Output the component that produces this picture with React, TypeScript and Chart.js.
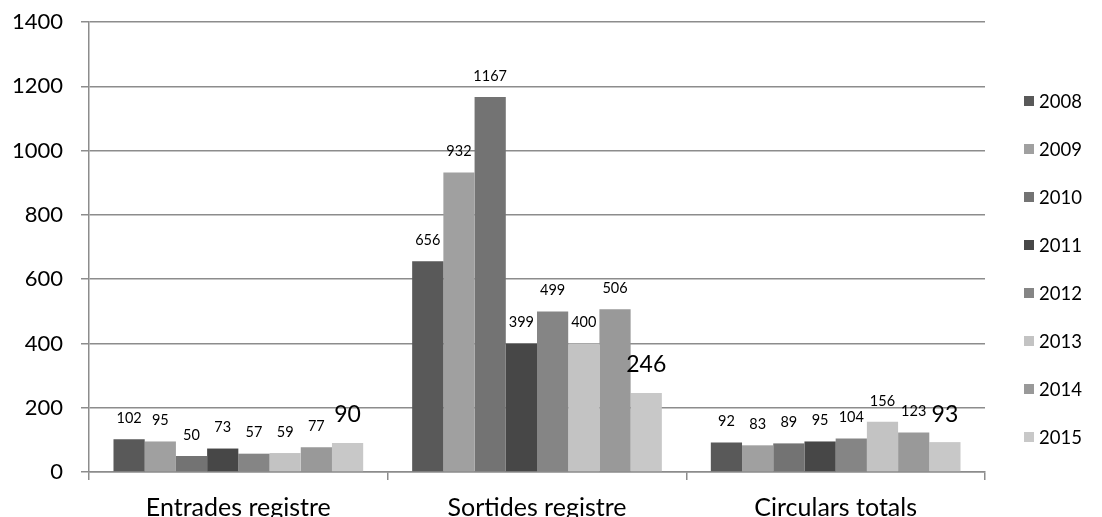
import React, { useEffect, useRef } from "react";
import { Chart, registerables } from "chart.js";

Chart.register(...registerables);

const categories = ["Entrades registre", "Sortides registre", "Circulars totals"];
const years = ["2008", "2009", "2010", "2011", "2012", "2013", "2014", "2015"];
const v2008 = [102, 656, 92];
const v2009 = [95, 932, 83];
const v2010 = [50, 1167, 89];
const v2011 = [73, 399, 95];
const v2012 = [57, 499, 104];
const v2013 = [59, 400, 156];
const v2014 = [77, 506, 123];
const v2015 = [90, 246, 93];
const seriesValues = [v2008, v2009, v2010, v2011, v2012, v2013, v2014, v2015];
const colors = ["#595959", "#a0a0a0", "#737373", "#474747", "#858585", "#c3c3c3", "#999999", "#c8c8c8"];
const yTicks = [0, 200, 400, 600, 800, 1000, 1200, 1400];

const FONT = "Lato, 'Open Sans', sans-serif";

const labelPlugin = {
  id: "barLabels",
  afterDatasetsDraw(chart: any) {
    const ctx = chart.ctx;
    ctx.save();
    ctx.fillStyle = "#000";
    ctx.textAlign = "center";
    ctx.textBaseline = "middle";
    chart.data.datasets.forEach((ds: any, di: number) => {
      const meta = chart.getDatasetMeta(di);
      const big = di === chart.data.datasets.length - 1;
      ctx.font = (big ? "23px " : "14.5px ") + FONT;
      meta.data.forEach((bar: any, i: number) => {
        const off = big ? 28 : 21;
        ctx.fillText(String(ds.data[i]), bar.x, bar.y - off);
      });
    });
    ctx.restore();
  },
};

const legendPlugin = {
  id: "customLegend",
  afterDraw(chart: any) {
    const ctx = chart.ctx;
    ctx.save();
    const x0 = 1024;
    const y0 = 101;
    const step = 48;
    ctx.font = "18.5px " + FONT;
    ctx.textBaseline = "middle";
    ctx.textAlign = "left";
    chart.data.datasets.forEach((ds: any, i: number) => {
      const y = y0 + i * step;
      ctx.fillStyle = ds.backgroundColor;
      ctx.fillRect(x0, y - 5, 10, 10);
      ctx.fillStyle = "#000";
      ctx.fillText(ds.label, x0 + 15, y + 1);
    });
    ctx.restore();
  },
};

export default function App() {
  const ref = useRef<HTMLCanvasElement | null>(null);
  useEffect(() => {
    document.body.style.margin = "0";
    if (!ref.current) return;
    const chart = new Chart(ref.current, {
      type: "bar",
      data: {
        labels: categories,
        datasets: years.map((y, i) => ({
          label: y,
          data: seriesValues[i],
          backgroundColor: colors[i],
          borderWidth: 0,
          categoryPercentage: 0.836,
          barPercentage: 1,
        })),
      },
      options: {
        animation: false,
        responsive: false,
        devicePixelRatio: 1,
        layout: { padding: { top: 22, right: 117, left: 0, bottom: 0 } },
        plugins: { legend: { display: false }, tooltip: { enabled: false } },
        scales: {
          x: {
            offset: true,
            grid: {
              display: true,
              offset: true,
              drawOnChartArea: false,
              drawTicks: true,
              tickLength: 8,
              color: "#8c8c8c",
              lineWidth: 1.5,
            },
            border: { display: true, color: "#8c8c8c", width: 1.5 },
            ticks: { color: "#000", font: { family: FONT, size: 25 }, padding: 13 },
            afterFit(scale: any) {
              scale.height = 45;
              scale.paddingLeft = 0;
              scale.paddingRight = 0;
            },
          },
          y: {
            min: 0,
            max: 1400,
            afterBuildTicks(scale: any) {
              scale.ticks = yTicks.map((v) => ({ value: v }));
            },
            grid: { color: "#8c8c8c", lineWidth: 1.5, tickLength: 8, drawTicks: true },
            border: { display: true, color: "#8c8c8c", width: 1.5 },
            ticks: {
              color: "#000",
              font: { family: FONT, size: 22 },
              padding: 18,
              callback: (v: any) => String(v),
            },
            afterFit(scale: any) {
              scale.width = 89;
              scale.paddingTop = 0;
              scale.paddingBottom = 0;
            },
          },
        },
      },
      plugins: [labelPlugin, legendPlugin],
    } as any);
    return () => chart.destroy();
  }, []);
  return (
    <div style={{ position: "absolute", left: 0, top: 0, width: 1102, height: 517 }}>
      <canvas ref={ref} width={1102} height={517} style={{ width: 1102, height: 517 }} />
    </div>
  );
}
